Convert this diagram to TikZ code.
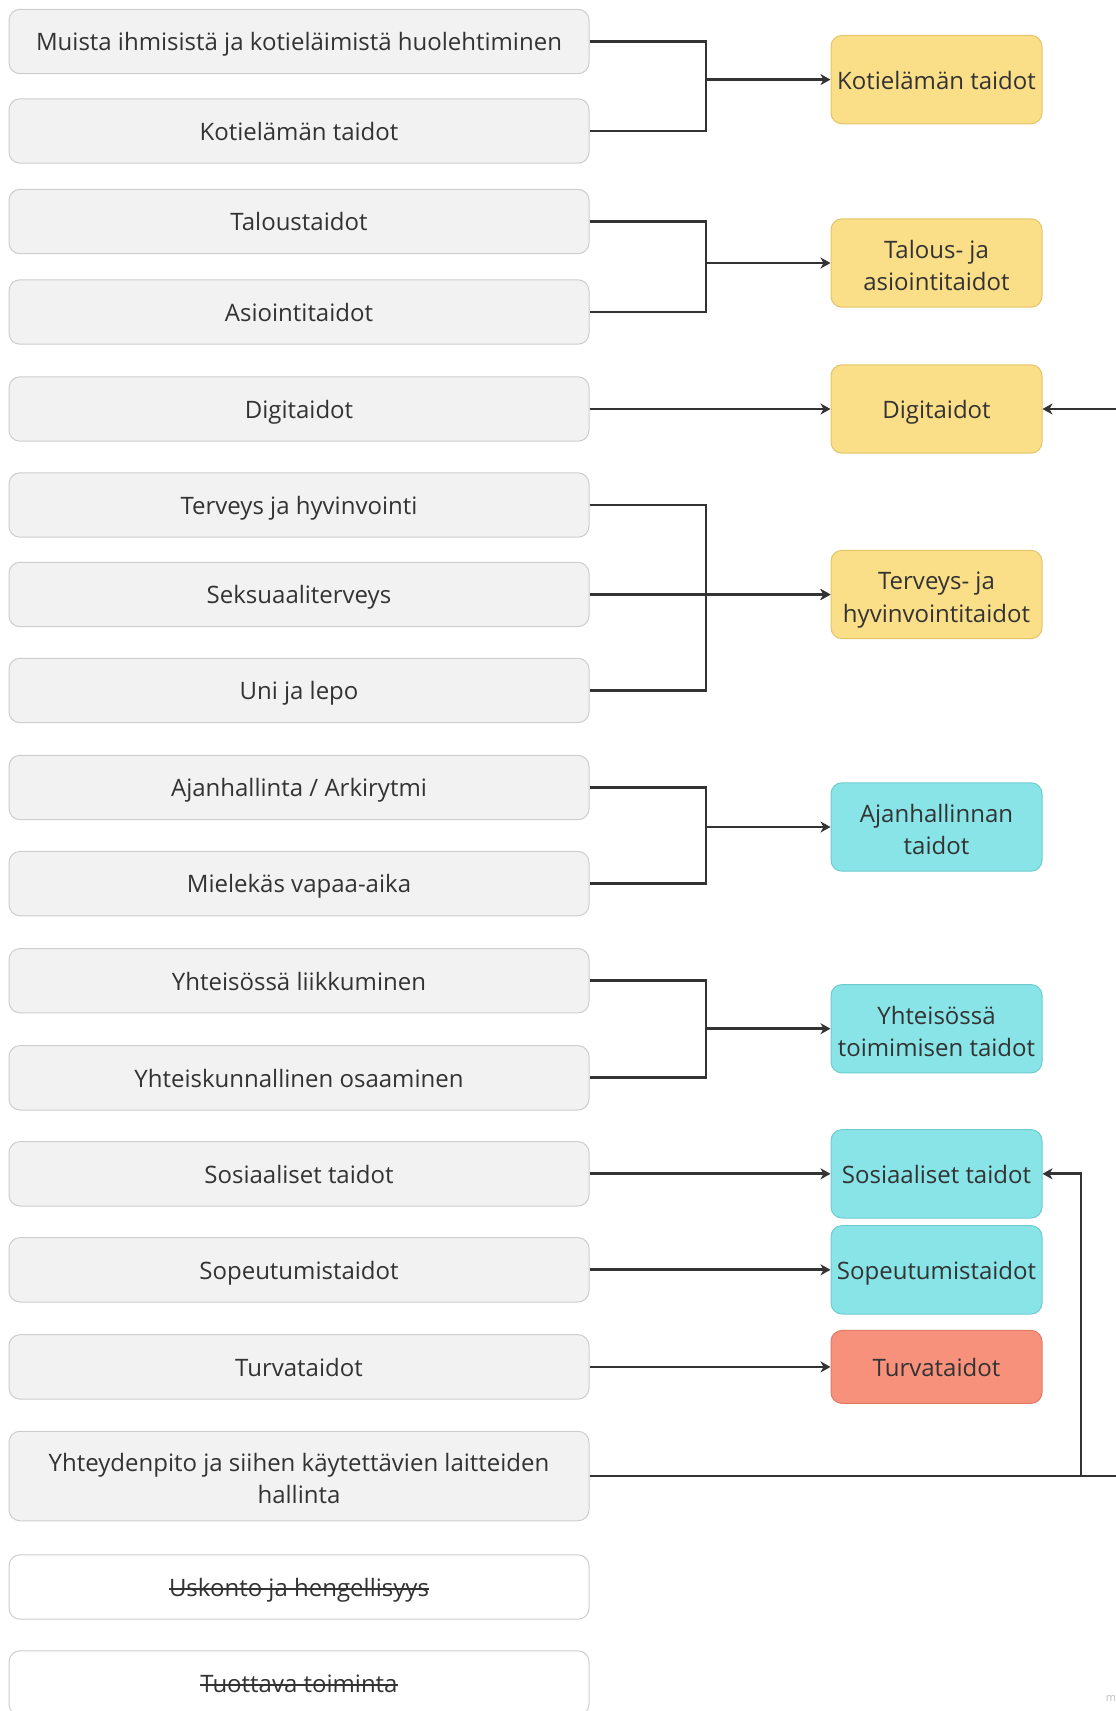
\documentclass[tikz,border=0pt]{standalone}
\usepackage{fontspec}
\setmainfont{Open Sans}
\usetikzlibrary{arrows.meta}

\definecolor{txt}{HTML}{333333}
\definecolor{linec}{HTML}{333333}
\definecolor{lfill}{HTML}{F2F2F2}
\definecolor{lline}{HTML}{CDCDCD}
\definecolor{yfill}{HTML}{FADF88}
\definecolor{yline}{HTML}{E3C46A}
\definecolor{cfill}{HTML}{88E4E7}
\definecolor{cline}{HTML}{6CCCCF}
\definecolor{rfill}{HTML}{F7917B}
\definecolor{rline}{HTML}{E07A66}

% fixed line boxes so every label sits at the same height in its box
\newcommand{\boxstrut}{\rule[-5.6pt]{0pt}{30pt}}
\newcommand{\topstrut}{\rule[-5.6pt]{0pt}{34.6pt}}

\tikzset{
  labeltext/.style={align=center, text=txt, font=\fontsize{24}{32.5}\selectfont,
    inner sep=0pt, execute at begin node=\boxstrut, execute at end node=\boxstrut},
  base/.style={labeltext, rounded corners=11pt, line width=1pt},
  skill/.style={base, draw=lline, fill=lfill, minimum width=580pt, minimum height=64.4pt},
  struck/.style={base, draw=lline, fill=white, minimum width=580pt, minimum height=64.4pt},
  strikeline/.style={draw=txt, line width=1.6pt},
  group/.style={base, minimum width=211pt, minimum height=88.4pt},
  yellowbox/.style={group, draw=yline, fill=yfill},
  cyanbox/.style={group, draw=cline, fill=cfill},
  redbox/.style={group, draw=rline, fill=rfill},
  conn/.style={draw=linec, line width=2.8pt},
  arr/.style={conn, -{Stealth[length=10pt,width=11pt,inset=3pt]}},
}

\begin{document}
\begin{tikzpicture}[x=1pt,y=-1pt]
\useasboundingbox (0,0) rectangle (1116,1711);

% skill areas
\node[skill] (L1) at (299,41.5) {Muista ihmisistä ja kotieläimistä huolehtiminen};
\node[skill] (L2) at (299,131) {Kotielämän taidot};
\node[skill] (L3) at (299,221.5) {Taloustaidot};
\node[skill] (L4) at (299,312) {Asiointitaidot};
\node[skill] (L5) at (299,409) {Digitaidot};
\node[skill] (L6) at (299,505) {Terveys ja hyvinvointi};
\node[skill] (L7) at (299,594.5) {Seksuaaliterveys};
\node[skill] (L8) at (299,690.5) {Uni ja lepo};
\node[skill] (L9) at (299,787.5) {Ajanhallinta / Arkirytmi};
\node[skill] (L10) at (299,883.6) {Mielekäs vapaa-aika};
\node[skill] (L11) at (299,980.7) {Yhteisössä liikkuminen};
\node[skill] (L12) at (299,1077.8) {Yhteiskunnallinen osaaminen};
\node[skill] (L13) at (299,1173.8) {Sosiaaliset taidot};
\node[skill] (L14) at (299,1269.8) {Sopeutumistaidot};
\node[skill] (L15) at (299,1366.9) {Turvataidot};
\node[skill, minimum height=89.5pt] (L16) at (299,1476) {\topstrut Yhteydenpito ja siihen käytettävien laitteiden\\hallinta};

% crossed-out areas
\node[struck] (L17) at (299,1587) {};
\node[labeltext] (L17t) at (L17) {Uskonto ja hengellisyys};
\draw[strikeline] ([yshift=7.5pt]L17t.base west) -- ([yshift=7.5pt]L17t.base east);
\node[struck] (L18) at (299,1683) {};
\node[labeltext] (L18t) at (L18) {Tuottava toiminta};
\draw[strikeline] ([yshift=7.5pt]L18t.base west) -- ([yshift=7.5pt]L18t.base east);

% skill groups
\node[yellowbox] (R1) at (936.5,79.6) {Kotielämän taidot};
\node[yellowbox] (R2) at (936.5,263) {\topstrut Talous- ja\\asiointitaidot};
\node[yellowbox] (R3) at (936.5,409) {Digitaidot};
\node[yellowbox] (R4) at (936.5,594.5) {\topstrut Terveys- ja\\hyvinvointitaidot};
\node[cyanbox] (R5) at (936.5,827) {\topstrut Ajanhallinnan\\taidot};
\node[cyanbox] (R6) at (936.5,1028.7) {\topstrut Yhteisössä\\toimimisen taidot};
\node[cyanbox] (R7) at (936.5,1173.8) {Sosiaaliset taidot};
\node[cyanbox] (R8) at (936.5,1269.8) {Sopeutumistaidot};
\node[redbox, minimum height=73pt] (R9) at (936.5,1366.9) {Turvataidot};

% bracket columns and free ends
\coordinate (bx) at (706,0);
\coordinate (sx) at (1081,0);
\coordinate (edgeD) at (1116,409);
\coordinate (edgeY) at (1116,1476);

% grouped connectors
\foreach \a/\b/\r in {L1/L2/R1, L3/L4/R2, L6/L8/R4, L9/L10/R5, L11/L12/R6}{
  \draw[conn, line join=miter] (\a.east) -| (bx |- \b.east) -- (\b.east);
  \draw[arr] (bx |- \r.west) -- (\r.west);
}
\draw[arr] (L7.east) -- (R4.west);

% one-to-one connectors
\draw[arr] (L5.east) -- (R3.west);
\draw[arr] (L13.east) -- (R7.west);
\draw[arr] (L14.east) -- (R8.west);
\draw[arr] (L15.east) -- (R9.west);

% incoming lines from the right
\draw[arr] (edgeD) -- (R3.east);
\draw[conn] (L16.east) -- (edgeY);
\draw[arr] (sx |- L16.east) |- (R7.east);

\node[text=black!25, font=\fontsize{11}{12}\selectfont, inner sep=0pt] (wm) at (1111,1698) {m};
\end{tikzpicture}
\end{document}
